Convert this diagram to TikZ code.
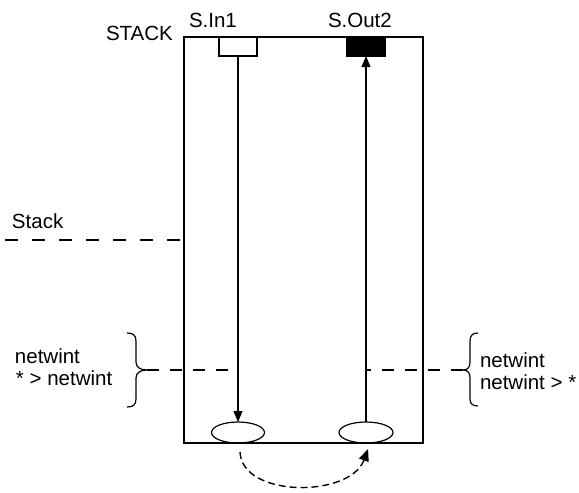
\documentclass[tikz,border=0pt]{standalone}
\usepackage{fontspec}
\setmainfont{Liberation Sans}
\usetikzlibrary{arrows.meta,shapes.geometric}
\begin{document}
\begin{tikzpicture}[x=1pt,y=-1pt,
  line width=1.2pt,
  every node/.style={inner sep=0pt,outer sep=0pt},
  lbl/.style={anchor=base west,font=\fontsize{20.5}{22}\selectfont},
  port/.style={draw,minimum height=19pt},
  pile/.style={draw,ellipse,minimum height=21pt},
  arr/.style={-{Triangle[length=11pt,width=9pt]}},
  longdash/.style={dash pattern=on 13pt off 14pt},
  bracedash/.style={dash pattern=on 12pt off 11pt},
  hop/.style={line width=1.4pt,dash pattern=on 7pt off 4pt,-{Triangle[length=12pt,width=10pt]}}]
\useasboundingbox (0,0) rectangle (579,493);

% the stack frame
\node[draw,minimum width=239pt,minimum height=406pt] (stack) at (303.5,240) {};

% ports on top edge
\node[port,minimum width=38pt] (inbox) at (238,46.5) {};
\node[port,fill=black,minimum width=39pt] (outbox) at (366,46.5) {};

% elements at the bottom
\node[pile,minimum width=53pt] (lel) at (238,432.5) {};
\node[pile,minimum width=54pt] (rel) at (366,432.5) {};

% labels
\node[lbl] (tSTACK) at (106,40) {STACK};
\node[lbl] (tin) at (189,27) {S.In1};
\node[lbl] (tout) at (328,27) {S.Out2};
\node[lbl] (tstack) at (12,228) {Stack};
\node[lbl] (tl1) at (15,363) {netwint};
\node[lbl] (tl2) at (16,385) {* > netwint};
\node[lbl] (tr1) at (480,367) {netwint};
\node[lbl] (tr2) at (480,389) {netwint > *};

% flows through the stack
\draw[arr] (inbox.south) -- (lel.north);
\draw[arr] (rel.north) -- (outbox.south);

% stack pointer
\coordinate (sl) at (5,240);
\draw[longdash] (sl) -- (stack.west);

% left brace
\coordinate (ltip) at (147,370);
\draw (127,333) .. controls (133,333) and (136,335) .. (136,341) -- (136,362)
      .. controls (136,367) and (140,370) .. (ltip)
      .. controls (140,370) and (136,373) .. (136,378) -- (136,399)
      .. controls (136,405) and (133,407) .. (127,407);
\draw[bracedash] (ltip) -- (ltip -| inbox.south);

% right brace
\coordinate (rtip) at (463,370);
\draw (478,333) .. controls (473,333) and (470,335) .. (470,341) -- (470,362)
      .. controls (470,367) and (468,370) .. (rtip)
      .. controls (468,370) and (470,373) .. (470,378) -- (470,399)
      .. controls (470,404) and (473,406) .. (478,406);
\draw[bracedash] (rtip) -- (rtip -| outbox.south);

% hop between the two elements
\coordinate (hs) at (240,452);
\coordinate (he) at (368,449);
\draw[hop] (hs) .. controls (242,498) and (350,498) .. (he);
\end{tikzpicture}
\end{document}
